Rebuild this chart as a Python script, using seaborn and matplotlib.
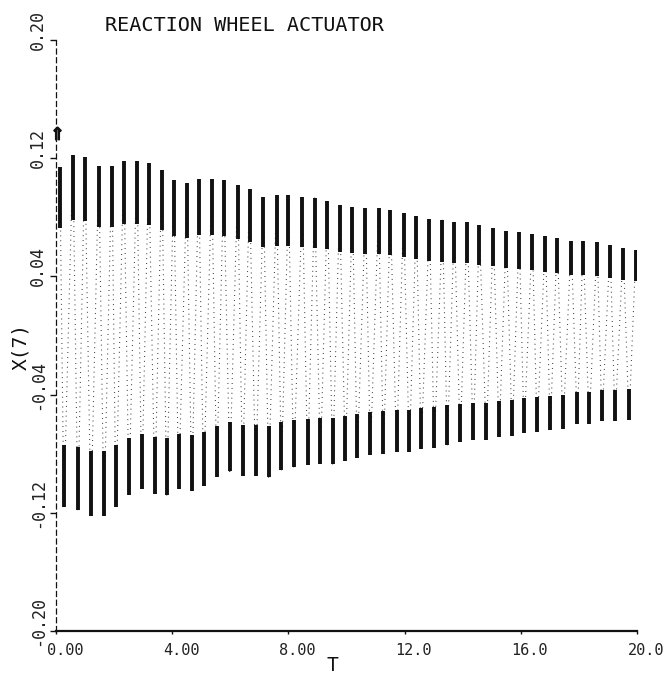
import numpy as np
import pandas as pd
import matplotlib
matplotlib.use("Agg")
import matplotlib.pyplot as plt
import matplotlib.transforms as mtransforms
import seaborn as sns

# ---- labels -------------------------------------------------------------
title = "REACTION WHEEL ACTUATOR"
x_label = "T"
y_label = "X(7)"
x_ticks = [0, 4, 8, 12, 16, 20]
x_tick_labels = ["0.00", "4.00", "8.00", "12.0", "16.0", "20.0"]
y_ticks = [0.20, 0.12, 0.04, -0.04, -0.12, -0.20]
y_tick_labels = ["0.20", "0.12", "0.04", "-0.04", "-0.12", "-0.20"]

# ---- wheel response: positive swing peaks (time, value) -------------------
upper_t = [0.13, 0.58, 0.99, 1.47, 1.92, 2.33, 2.78, 3.19, 3.64, 4.05,
           4.50, 4.91, 5.36, 5.77, 6.25, 6.66, 7.14, 7.59, 8.00, 8.48,
           8.90, 9.34, 9.76, 10.20, 10.65, 11.10, 11.51, 11.96, 12.40, 12.85,
           13.30, 13.71, 14.15, 14.57, 15.05, 15.50, 15.94, 16.39, 16.84, 17.25,
           17.73, 18.14, 18.62, 19.07, 19.52, 19.96]
upper_x = [0.114, 0.122, 0.121, 0.115, 0.115, 0.118, 0.118, 0.117, 0.112, 0.105,
           0.103, 0.106, 0.106, 0.105, 0.102, 0.099, 0.094, 0.095, 0.095, 0.094,
           0.093, 0.091, 0.088, 0.087, 0.086, 0.086, 0.085, 0.083, 0.081, 0.079,
           0.078, 0.077, 0.077, 0.075, 0.073, 0.071, 0.070, 0.069, 0.067, 0.066,
           0.064, 0.064, 0.063, 0.061, 0.059, 0.058]

# ---- wheel response: negative swing peaks (time, value) -------------------
lower_t = [0.27, 0.75, 1.20, 1.65, 2.06, 2.51, 2.95, 3.40, 3.81, 4.22,
           4.67, 5.08, 5.53, 5.98, 6.42, 6.87, 7.32, 7.76, 8.18, 8.66,
           9.10, 9.52, 9.96, 10.37, 10.82, 11.27, 11.72, 12.16, 12.57, 13.02,
           13.47, 13.91, 14.36, 14.81, 15.25, 15.70, 16.11, 16.56, 17.01, 17.45,
           17.94, 18.35, 18.79, 19.24, 19.72]
lower_x = [-0.116, -0.118, -0.122, -0.122, -0.116, -0.108, -0.104, -0.107, -0.108, -0.104,
           -0.105, -0.102, -0.096, -0.092, -0.095, -0.095, -0.096, -0.091, -0.089, -0.088,
           -0.087, -0.087, -0.085, -0.083, -0.081, -0.080, -0.079, -0.079, -0.077, -0.076,
           -0.074, -0.072, -0.071, -0.071, -0.069, -0.068, -0.066, -0.065, -0.064, -0.063,
           -0.060, -0.060, -0.058, -0.058, -0.057]

# plotted start symbol on the curve
start_t = [0.05]
start_x = [0.137]

# ---- style ----------------------------------------------------------------
sns.set_style("white")
plt.rcParams["font.family"] = ["DejaVu Sans Mono", "DejaVu Sans"]
ink = "#111111"
TIP_FRACTION = 0.36   # share of each swing drawn heavy near its extreme

fig = plt.figure(figsize=(6.71, 6.76), dpi=100)
ax = fig.add_axes([0.0835, 0.0666, 0.866, 0.8743])

# oscillation trace: alternate positive and negative extremes in time order
trace = pd.DataFrame({
    "T": np.concatenate([upper_t, lower_t]),
    "X7": np.concatenate([upper_x, lower_x]),
}).sort_values("T")
sns.lineplot(data=trace, x="T", y="X7", ax=ax, estimator=None, sort=False,
             color="#333333", lw=0.8, linestyle=(0, (0.8, 3.6)))

# heavy strokes where the pen dwells near each extreme
up = np.asarray(upper_x)
lo = np.asarray(lower_x)
ax.vlines(upper_t, up, up * (1 - TIP_FRACTION), color=ink, lw=2.8)
ax.vlines(lower_t, lo, lo * (1 - TIP_FRACTION), color=ink, lw=2.8)

ax.plot(start_t, start_x, linestyle="none", marker=r"$\Uparrow$",
        markersize=9, color=ink, clip_on=False)

# ---- axes -------------------------------------------------------------------
ax.set_xlim(0, 20)
ax.set_ylim(-0.20, 0.20)
ax.set_xlabel("")
ax.set_ylabel("")
ax.set_xticks(x_ticks)
ax.set_xticklabels(x_tick_labels, fontsize=11, color="#222222")
ax.set_yticks(y_ticks)
ax.set_yticklabels(y_tick_labels, fontsize=12, color="#222222",
                   rotation=90, va="center")
ax.tick_params(axis="y", direction="out", length=4.5, width=1.0, pad=2,
               color=ink, left=True)
ax.tick_params(axis="x", direction="out", length=2.5, width=1.0, pad=6,
               color=ink, bottom=True)

# plotter-style label placement: x labels sit a little right, y labels a little up
shift_x = mtransforms.ScaledTranslation(9 / 100, 0, fig.dpi_scale_trans)
for lab in ax.get_xticklabels():
    lab.set_transform(lab.get_transform() + shift_x)
shift_y = mtransforms.ScaledTranslation(0, 10 / 100, fig.dpi_scale_trans)
for lab in ax.get_yticklabels():
    lab.set_transform(lab.get_transform() + shift_y)

for side in ("top", "right"):
    ax.spines[side].set_visible(False)
ax.spines["left"].set_linestyle((0, (4, 3)))
ax.spines["left"].set_linewidth(0.9)
ax.spines["left"].set_color(ink)
ax.spines["bottom"].set_linewidth(1.6)
ax.spines["bottom"].set_color(ink)

fig.text(0.495, 0.0148, x_label, fontsize=14, color=ink, ha="center", va="center")
fig.text(0.0313, 0.488, y_label, fontsize=14, color=ink, rotation=90,
         ha="center", va="center")
fig.text(0.156, 0.962, title, fontsize=14.5, color=ink, ha="left", va="center")

fig.savefig("out.png", dpi=100)
